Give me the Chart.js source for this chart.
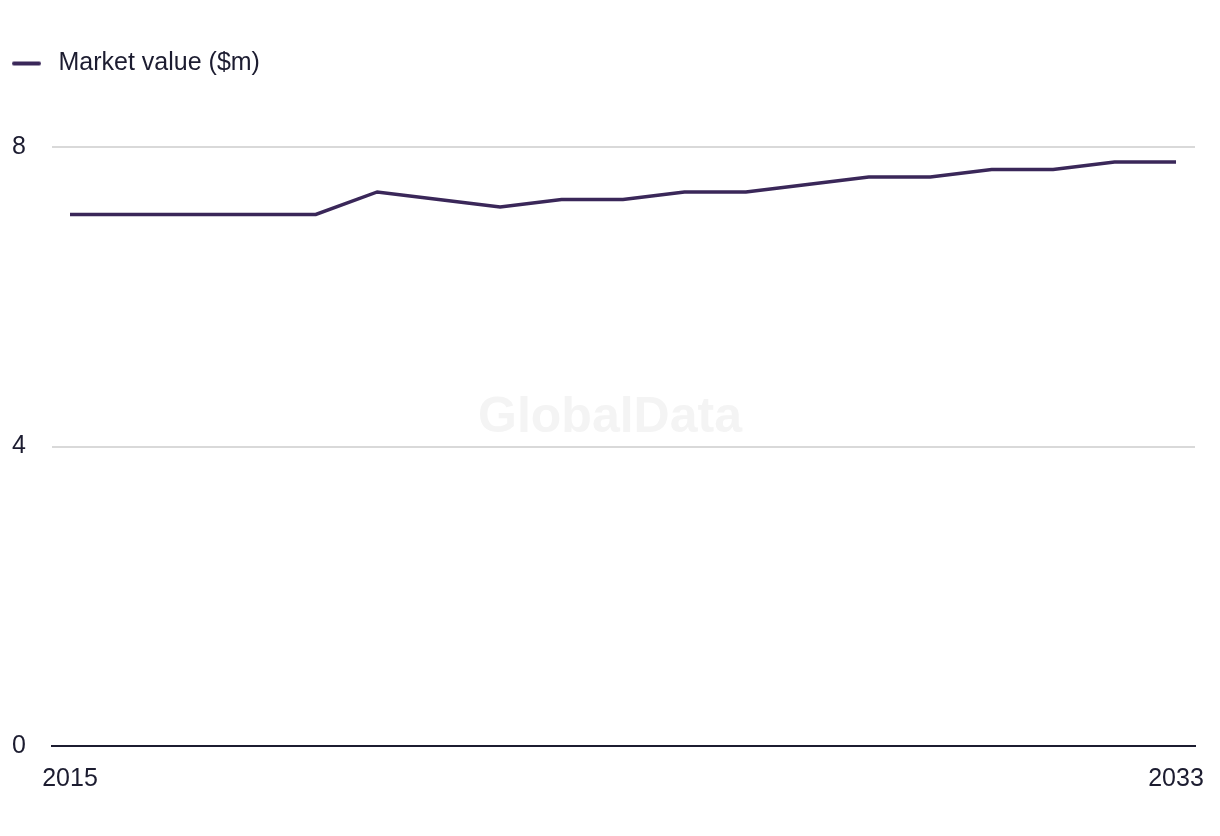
<!DOCTYPE html>
<html>
<head>
<meta charset="utf-8">
<script src="https://cdn.jsdelivr.net/npm/chart.js@4/dist/chart.umd.min.js"></script>
<style>
html,body{margin:0;padding:0;background:#fff;}
#wrap{width:1220px;height:836px;position:relative;}
</style>
</head>
<body>
<div id="wrap"><canvas id="c" width="1220" height="836"></canvas></div>
<script>
const years = [2015,2016,2017,2018,2019,2020,2021,2022,2023,2024,2025,2026,2027,2028,2029,2030,2031,2032,2033];
const marketValue = [7.1,7.1,7.1,7.1,7.1,7.4,7.3,7.2,7.3,7.3,7.4,7.4,7.5,7.6,7.6,7.7,7.7,7.8,7.8];
const seriesLabel = 'Market value ($m)';
const xTickLabels = [2015, 2033];
const yTickValues = [0, 4, 8];

const LINE = '#3a2759';
const TEXT = '#1c1c30';
const FONT = '"Liberation Sans", Arial, sans-serif';

const sw = document.createElement('canvas');
sw.width = 34; sw.height = 6;
(function(){const g = sw.getContext('2d'); g.strokeStyle = LINE; g.lineWidth = 4; g.lineCap = 'round'; g.beginPath(); g.moveTo(2,3); g.lineTo(27,3); g.stroke();})();

const watermark = {
  id: 'watermark',
  beforeDatasetsDraw(chart) {
    const {ctx} = chart;
    ctx.save();
    ctx.font = 'bold 50px ' + FONT;
    ctx.fillStyle = '#f4f4f4';
    ctx.textAlign = 'center';
    ctx.textBaseline = 'middle';
    ctx.fillText('GlobalData', 610, 418);
    ctx.restore();
  }
};

const legendSpace = {
  id: 'legendSpace',
  beforeInit(chart) {
    const fit = chart.legend.fit;
    chart.legend.fit = function() { fit.call(this); this.height += 61; };
  }
};

new Chart(document.getElementById('c'), {
  type: 'line',
  data: {
    datasets: [{
      label: seriesLabel,
      data: years.map((y, i) => ({x: y, y: marketValue[i]})),
      borderColor: LINE,
      backgroundColor: LINE,
      borderWidth: 3.5,
      pointRadius: 0,
      tension: 0,
      pointStyle: sw
    }]
  },
  options: {
    responsive: false,
    animation: false,
    layout: {padding: {top: 51, left: 12, right: 25, bottom: 24}},
    plugins: {
      legend: {
        position: 'top',
        align: 'start',
        labels: {
          usePointStyle: true,
          pointStyleWidth: 34,
          padding: 0,
          color: TEXT,
          font: {family: FONT, size: 25}
        }
      },
      tooltip: {enabled: false}
    },
    scales: {
      x: {
        type: 'linear',
        min: 2014.707,
        max: 2033.309,
        afterBuildTicks(scale) { scale.ticks = xTickLabels.map(v => ({value: v})); },
        afterFit(scale) { scale.paddingLeft = 0; scale.paddingRight = 0; },
        grid: {display: false, drawTicks: false},
        border: {display: true, color: TEXT, width: 2},
        ticks: {
          padding: 18,
          color: TEXT,
          font: {family: FONT, size: 25},
          maxRotation: 0,
          autoSkip: false,
          callback: v => String(v)
        }
      },
      y: {
        min: 0,
        max: 8,
        afterBuildTicks(scale) { scale.ticks = yTickValues.map(v => ({value: v})); },
        afterFit(scale) { scale.width = 40; },
        grid: {color: '#d9d9d9', lineWidth: 2, drawTicks: false},
        border: {display: false},
        ticks: {
          crossAlign: 'far',
          padding: 0,
          color: TEXT,
          font: {family: FONT, size: 25}
        }
      }
    }
  },
  plugins: [watermark, legendSpace]
});
</script>
</body>
</html>
